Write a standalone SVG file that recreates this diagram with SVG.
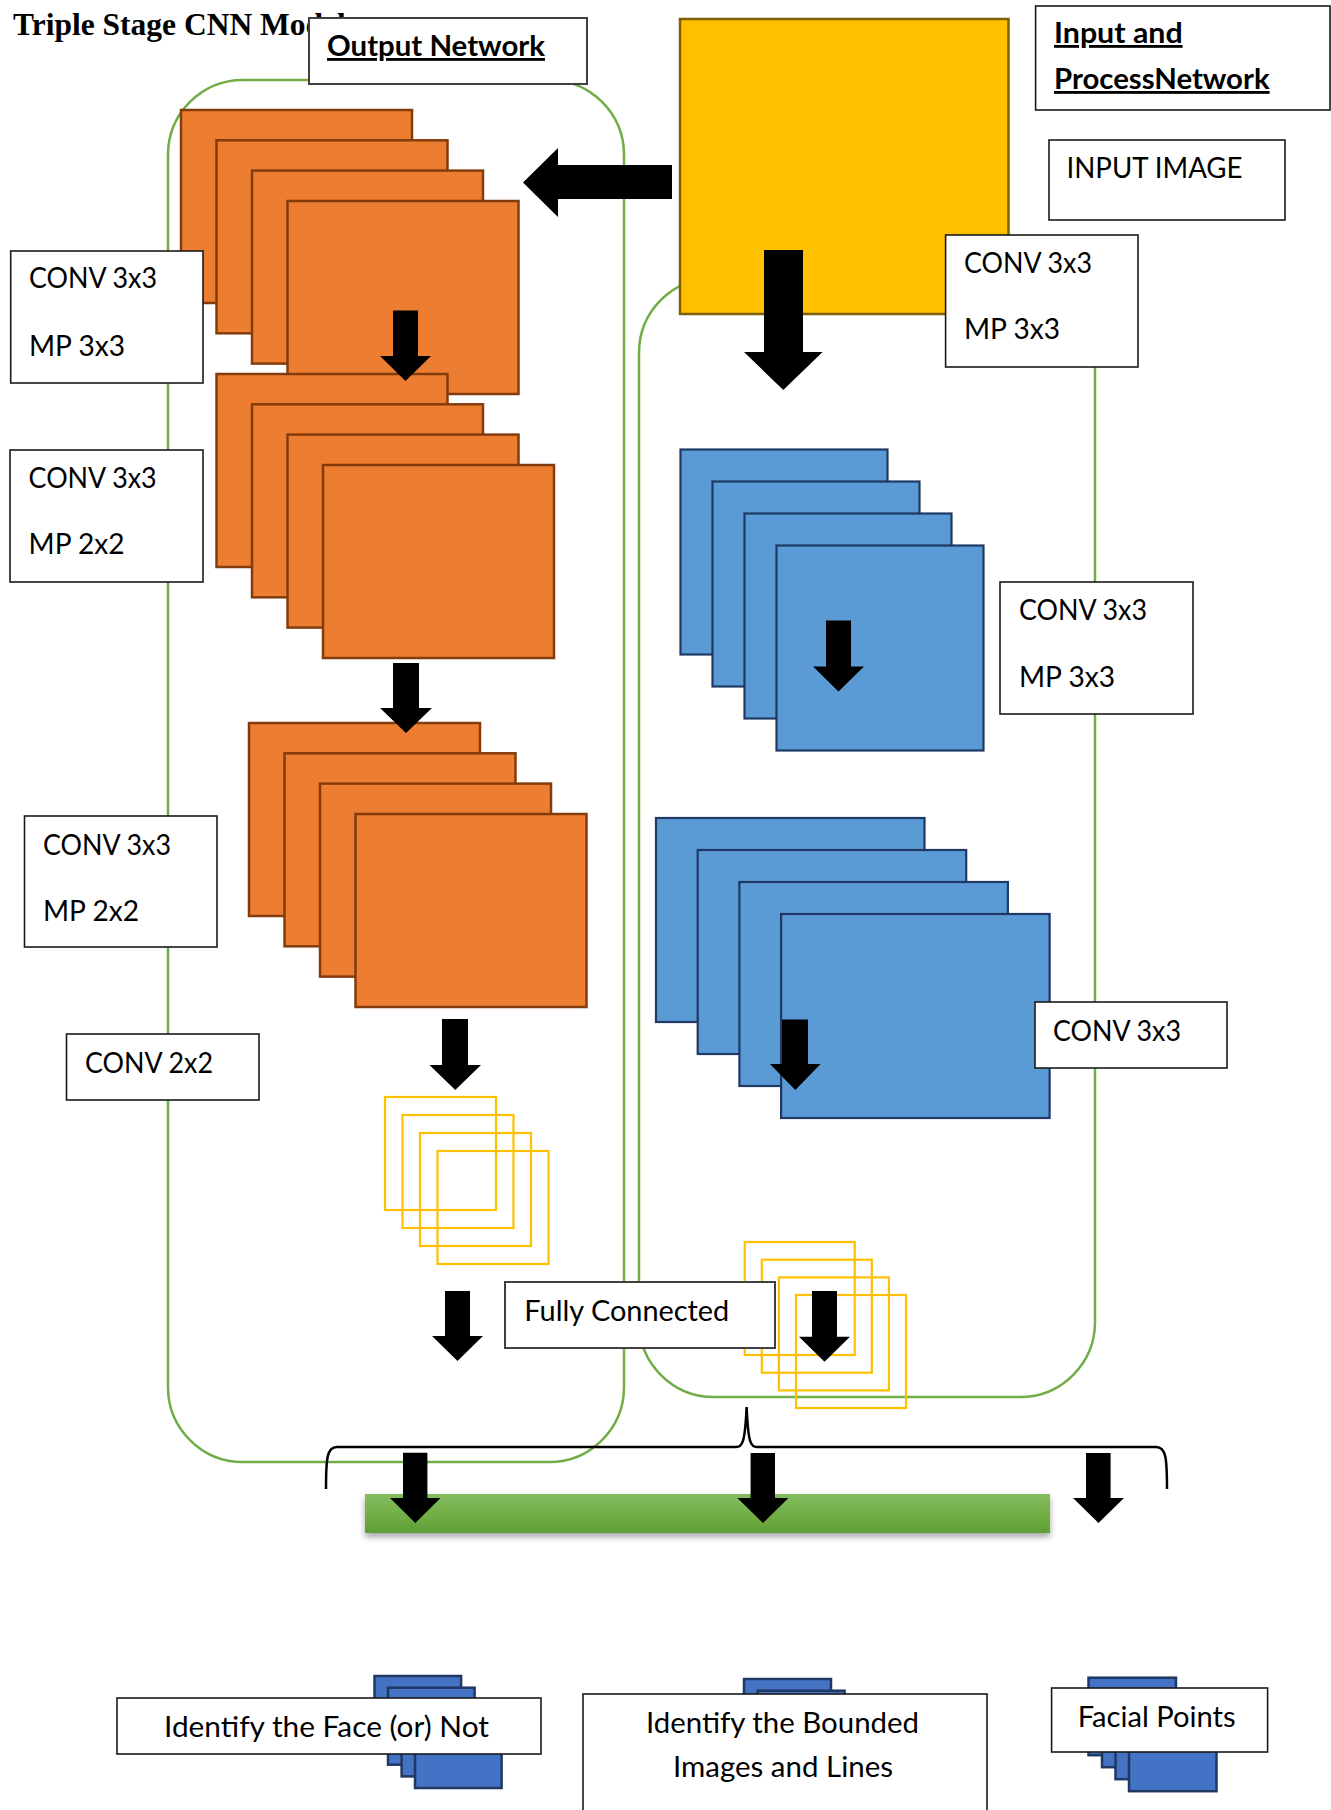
<svg xmlns="http://www.w3.org/2000/svg" width="1331" height="1810" viewBox="0 0 1331 1810">
<defs>
<style>
.lbl{fill:#fff;stroke:#1a1a1a;stroke-width:1.6}
.lblg{fill:#fff;stroke:#404040;stroke-width:2}
.t{font-family:Lato,"Open Sans","Liberation Sans",sans-serif;font-size:28.3px;fill:#000}
.tb{font-family:Lato,"Open Sans","Liberation Sans",sans-serif;font-size:28.3px;font-weight:bold;fill:#000;text-decoration:underline}
.or{fill:#ED7D31;stroke:#843C0C;stroke-width:2.5}
.bl{fill:#5B9BD5;stroke:#1F3864;stroke-width:2.2}
.db{fill:#4472C4;stroke:#1F3864;stroke-width:2.5}
.yo{fill:none;stroke:#FFC000;stroke-width:2.2}
.cont{fill:none;stroke:#70AD47;stroke-width:2.5}
.arr{fill:#000}
</style>
<linearGradient id="gbar" x1="0" y1="0" x2="0" y2="1">
<stop offset="0" stop-color="#84BD61"/>
<stop offset="0.5" stop-color="#73B046"/>
<stop offset="1" stop-color="#5E9E35"/>
</linearGradient>
<filter id="sh" x="-5%" y="-30%" width="110%" height="180%">
<feDropShadow dx="0" dy="4" stdDeviation="3" flood-color="#000" flood-opacity="0.35"/>
</filter>
</defs>
<rect width="1331" height="1810" fill="#fff"/>

<g id="title">
<text x="13" y="35" font-family="'Liberation Serif','Times New Roman',serif" font-weight="bold" font-size="31.5">Triple Stage CNN Model</text>
</g>

<g id="containers">
<rect id="output-container" class="cont" x="168" y="80" width="456" height="1382" rx="75"/>
<rect id="process-container" class="cont" x="639" y="278" width="456" height="1119" rx="75"/>
</g>

<g id="output-network-label">
<rect class="lblg" x="309" y="18" width="278" height="66"/>
<text class="tb" x="327" y="56" textLength="218" lengthAdjust="spacingAndGlyphs">Output Network</text>
</g>

<g id="input-image">
<rect x="680" y="19" width="328.5" height="295" fill="#FFC000" stroke="#7F6000" stroke-width="2.5"/>
</g>

<g id="orange-stack-1">
<rect class="or" x="181" y="110" width="231" height="193"/>
<rect class="or" x="216.5" y="140.3" width="231" height="193"/>
<rect class="or" x="252" y="170.6" width="231" height="193"/>
<rect class="or" x="287.5" y="201" width="231" height="193"/>
</g>
<g id="orange-stack-2">
<rect class="or" x="216.5" y="374" width="231" height="193"/>
<rect class="or" x="252" y="404.3" width="231" height="193"/>
<rect class="or" x="287.5" y="434.6" width="231" height="193"/>
<rect class="or" x="323" y="465" width="231" height="193"/>
</g>
<g id="orange-stack-3">
<rect class="or" x="249" y="723" width="231" height="193"/>
<rect class="or" x="284.5" y="753.3" width="231" height="193"/>
<rect class="or" x="320" y="783.6" width="231" height="193"/>
<rect class="or" x="355.5" y="814" width="231" height="193"/>
</g>
<g id="yellow-outline-left">
<rect class="yo" x="385" y="1097" width="111" height="113"/>
<rect class="yo" x="402.5" y="1115" width="111" height="113"/>
<rect class="yo" x="420" y="1133" width="111" height="113"/>
<rect class="yo" x="437.5" y="1151" width="111" height="113"/>
</g>

<g id="blue-stack-1">
<rect class="bl" x="680.5" y="449.5" width="207" height="205"/>
<rect class="bl" x="712.5" y="481.5" width="207" height="205"/>
<rect class="bl" x="744.5" y="513.5" width="207" height="205"/>
<rect class="bl" x="776.5" y="545.5" width="207" height="205"/>
</g>
<g id="blue-stack-2">
<rect class="bl" x="656" y="818" width="268.5" height="204"/>
<rect class="bl" x="697.7" y="850" width="268.5" height="204"/>
<rect class="bl" x="739.4" y="882" width="268.5" height="204"/>
<rect class="bl" x="781.1" y="914" width="268.5" height="204"/>
</g>

<g id="yellow-outline-right">
<rect class="yo" x="744.7" y="1242" width="110" height="113"/>
<rect class="yo" x="761.8" y="1259.7" width="110" height="113"/>
<rect class="yo" x="778.9" y="1277.4" width="110" height="113"/>
<rect class="yo" x="796" y="1295" width="110" height="113"/>
</g>

<g id="label-conv3-mp3-left">
<rect class="lbl" x="10.7" y="251" width="192.3" height="132"/>
<text class="t" x="29" y="288" textLength="128" lengthAdjust="spacingAndGlyphs">CONV 3x3</text>
<text class="t" x="29" y="356" textLength="96" lengthAdjust="spacingAndGlyphs">MP 3x3</text>
</g>
<g id="label-conv3-mp2-a">
<rect class="lbl" x="10" y="450" width="193" height="132"/>
<text class="t" x="28.6" y="488" textLength="128" lengthAdjust="spacingAndGlyphs">CONV 3x3</text>
<text class="t" x="28.6" y="554" textLength="96" lengthAdjust="spacingAndGlyphs">MP 2x2</text>
</g>
<g id="label-conv3-mp2-b">
<rect class="lbl" x="24.5" y="816" width="192.5" height="131"/>
<text class="t" x="43" y="855" textLength="128" lengthAdjust="spacingAndGlyphs">CONV 3x3</text>
<text class="t" x="43" y="921" textLength="96" lengthAdjust="spacingAndGlyphs">MP 2x2</text>
</g>
<g id="label-conv2">
<rect class="lbl" x="66.5" y="1034" width="192.5" height="66"/>
<text class="t" x="85" y="1072.5" textLength="128" lengthAdjust="spacingAndGlyphs">CONV 2x2</text>
</g>

<g id="label-input-process">
<rect class="lbl" x="1035.6" y="6" width="294.4" height="104"/>
<text class="tb" x="1054" y="43" textLength="128.6" lengthAdjust="spacingAndGlyphs">Input and</text>
<text class="tb" x="1054" y="89" textLength="215.6" lengthAdjust="spacingAndGlyphs">ProcessNetwork</text>
</g>
<g id="label-input-image">
<rect class="lbl" x="1049" y="140" width="236" height="80"/>
<text class="t" x="1066.5" y="178" textLength="176" lengthAdjust="spacingAndGlyphs">INPUT IMAGE</text>
</g>
<g id="label-conv3-mp3-right-top">
<rect class="lbl" x="945.6" y="235" width="192.4" height="132"/>
<text class="t" x="964" y="273" textLength="128" lengthAdjust="spacingAndGlyphs">CONV 3x3</text>
<text class="t" x="964" y="339" textLength="96" lengthAdjust="spacingAndGlyphs">MP 3x3</text>
</g>
<g id="label-conv3-mp3-right-mid">
<rect class="lbl" x="1000" y="582" width="193" height="132"/>
<text class="t" x="1019" y="620" textLength="128" lengthAdjust="spacingAndGlyphs">CONV 3x3</text>
<text class="t" x="1019" y="687" textLength="96" lengthAdjust="spacingAndGlyphs">MP 3x3</text>
</g>
<g id="label-conv3-right-low">
<rect class="lbl" x="1035" y="1002" width="192" height="66"/>
<text class="t" x="1053" y="1041" textLength="128" lengthAdjust="spacingAndGlyphs">CONV 3x3</text>
</g>
<g id="label-fully-connected">
<rect class="lblg" x="505" y="1282" width="270" height="66"/>
<text class="t" x="524.3" y="1321" textLength="205" lengthAdjust="spacingAndGlyphs">Fully Connected</text>
</g>

<g id="green-bar">
<rect x="365" y="1494" width="685" height="39" fill="url(#gbar)" filter="url(#sh)"/>
</g>

<g id="out-face">
<rect class="db" x="374.5" y="1676" width="86.6" height="77"/>
<rect class="db" x="388" y="1687.7" width="86.6" height="77"/>
<rect class="db" x="401.6" y="1699.4" width="86.6" height="77"/>
<rect class="db" x="415" y="1711" width="86.6" height="77"/>
<rect class="lbl" x="117" y="1698" width="424" height="56"/>
<text class="t" x="326.5" y="1736.7" text-anchor="middle" textLength="325" lengthAdjust="spacingAndGlyphs">Identify the Face (or) Not</text>
</g>
<g id="out-bounded">
<rect class="db" x="744" y="1679" width="87" height="77"/>
<rect class="db" x="757.6" y="1690.7" width="87" height="77"/>
<rect class="db" x="771.2" y="1702.4" width="87" height="77"/>
<rect class="db" x="784.8" y="1714" width="87" height="77"/>
<rect class="lbl" x="583" y="1694" width="404" height="200"/>
<text class="t" x="782.5" y="1732.7" text-anchor="middle" textLength="273" lengthAdjust="spacingAndGlyphs">Identify the Bounded</text>
<text class="t" x="783" y="1776.7" text-anchor="middle" textLength="220" lengthAdjust="spacingAndGlyphs">Images and Lines</text>
</g>
<g id="out-facial">
<rect class="db" x="1088.5" y="1677.7" width="87.5" height="77.5"/>
<rect class="db" x="1102" y="1689.7" width="87.5" height="77.5"/>
<rect class="db" x="1115.5" y="1701.7" width="87.5" height="77.5"/>
<rect class="db" x="1129" y="1713.7" width="87.5" height="77.5"/>
<rect class="lbl" x="1051.6" y="1688" width="216" height="64"/>
<text class="t" x="1077.7" y="1726.7" textLength="158" lengthAdjust="spacingAndGlyphs">Facial Points</text>
</g>

<g id="connectors">
<path class="arr" d="M672,165 V199 H558 V217 L523,182.5 L558,148 V165 Z"/>
<path class="arr" d="M764,250 H803 V352 H822.6 L783.3,390 L744,352 H764 Z"/>
<path class="arr" d="M393,310.5 H418 V356 H431 L405.5,381 L380,356 H393 Z"/>
<path class="arr" d="M393,663 H419 V708 H432 L406,733 L380,708 H393 Z"/>
<path class="arr" d="M442,1019 H468 V1065 H481 L455.25,1090 L429.5,1065 H442 Z"/>
<path class="arr" d="M445,1291 H470 V1336 H483 L457.5,1361 L432,1336 H445 Z"/>
<path class="arr" d="M826,620.5 H851 V666.5 H864 L838.5,691.5 L813,666.5 H826 Z"/>
<path class="arr" d="M782,1019.6 H808 V1064 H820.6 L795.3,1090 L770,1064 H782 Z"/>
<path class="arr" d="M812,1291 H837 V1336.7 H850 L824.5,1361.7 L799,1336.7 H812 Z"/>
<path d="M326,1489 C326,1458 327,1447 337,1447 H736 C742,1447 745,1444 746.6,1407 C748.2,1444 751,1447 757,1447 H1156 C1166,1447 1167,1458 1167,1489" fill="none" stroke="#000" stroke-width="2.5"/>
<path class="arr" d="M403,1452.7 H427.4 V1498 H440.6 L415.3,1523 L390,1498 H403 Z"/>
<path class="arr" d="M750.6,1453 H775 V1498 H788.5 L763,1523 L737.4,1498 H750.6 Z"/>
<path class="arr" d="M1086,1453 H1110.6 V1498 H1124 L1098.5,1523 L1073,1498 H1086 Z"/>
</g>
</svg>
